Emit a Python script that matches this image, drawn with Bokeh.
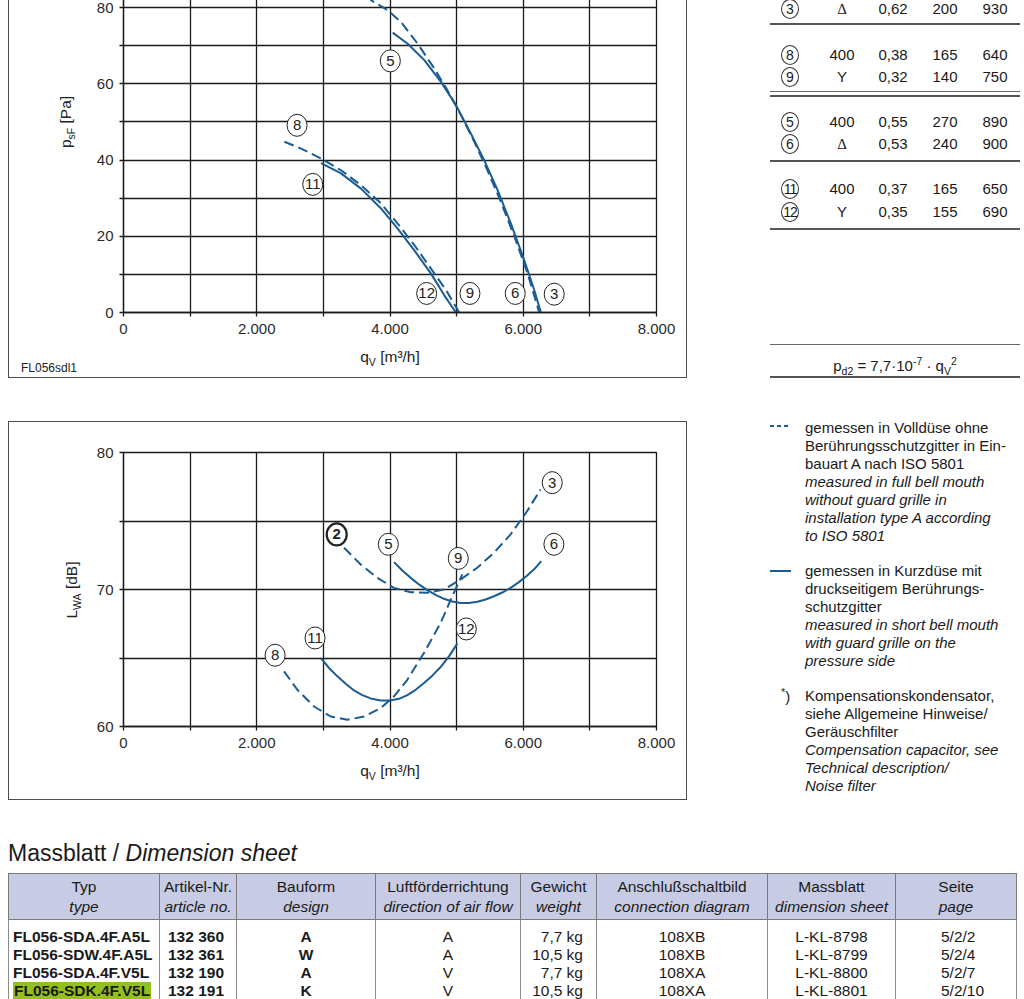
from bokeh.plotting import figure
from bokeh.models import Range1d, FixedTicker, Div, Spacer
from bokeh.layouts import column, row
from bokeh.core.properties import value
from bokeh.embed import file_html
from bokeh.resources import INLINE

FONT = "Liberation Sans"
BLUE = "#1b5c93"
INK = "#1a1a1a"

# ---------------- data ----------------
x_ticks = [0, 1000, 2000, 3000, 4000, 5000, 6000, 7000, 8000]
x_tick_labels = ["0", "", "2.000", "", "4.000", "", "6.000", "", "8.000"]
psf_ticks = [0, 10, 20, 30, 40, 50, 60, 70, 80, 90]
psf_tick_labels = ["0", "", "20", "", "40", "", "60", "", "80", ""]
lwa_ticks = [60, 65, 70, 75, 80]
lwa_tick_labels = ["60", "", "70", "", "80"]

# pressure curves  (q_V [m3/h], p_sF [Pa])
q_p3 = [3690, 3715, 3965, 4165, 4415, 4665, 4865, 5065, 5265, 5465, 5665, 5865, 6065, 6240]
p3 = [83.5, 81.9, 79.3, 76.2, 70.5, 64.0, 58.2, 51.8, 44.8, 37.2, 29.0, 20.0, 10.3, 0.0]
q_p6 = [4040, 4265, 4515, 4765, 4990, 5215, 5415, 5615, 5815, 6015, 6165, 6265]
p6 = [73.4, 70.5, 66.2, 60.5, 54.4, 46.9, 39.9, 32.1, 23.3, 13.7, 5.9, 0.0]
q_p9 = [2415, 2665, 2965, 3265, 3565, 3865, 4115, 4365, 4615, 4840, 5040]
p9 = [44.8, 43.0, 40.4, 37.3, 33.4, 28.6, 23.3, 17.7, 11.5, 5.9, 0.0]
q_p12 = [2965, 3265, 3565, 3865, 4115, 4365, 4615, 4815, 4990]
p12 = [39.2, 36.5, 32.5, 27.3, 22.0, 16.3, 10.2, 4.5, 0.0]

# sound power curves (q_V [m3/h], L_WA [dB])
q_l3 = [3310, 3560, 3810, 4060, 4310, 4560, 4810, 5060, 5310, 5560, 5810, 6060, 6260]
l3 = [73.05, 71.83, 70.85, 70.12, 69.8, 69.76, 70.0, 70.73, 71.59, 72.68, 74.02, 75.73, 77.3]
q_l6 = [4060, 4185, 4310, 4435, 4560, 4685, 4810, 4935, 5060, 5185, 5310, 5435, 5560, 5685,
        5810, 5935, 6060, 6170, 6270]
l6 = [72.0, 71.39, 70.85, 70.37, 69.95, 69.61, 69.32, 69.12, 69.02, 69.02, 69.1, 69.27, 69.51, 69.78,
      70.12, 70.54, 71.02, 71.51, 72.07]
q_l9 = [2410, 2610, 2860, 3110, 3360, 3610, 3860, 4060, 4260, 4510, 4760, 4935, 5085]
l9 = [64.02, 62.68, 61.46, 60.73, 60.49, 60.73, 61.34, 62.2, 63.41, 65.37, 67.56, 69.51, 71.1]
q_l12 = [2970, 3085, 3210, 3335, 3460, 3585, 3710, 3860, 4000, 4135, 4260, 4385, 4510, 4635,
         4760, 4885, 5010]
l12 = [64.95, 64.27, 63.66, 63.12, 62.63, 62.29, 62.05, 61.9, 61.9, 62.02, 62.29, 62.68, 63.17, 63.71,
       64.34, 65.12, 66.05]

# curve markers
top_lab_text = ["5", "8", "11", "12", "9", "6", "3"]
top_lab_q = [4005, 2605, 2840, 4550, 5200, 5880, 6465]
top_lab_p = [66.0, 49.1, 33.6, 5.0, 5.0, 5.0, 4.8]
bot_lab_text = ["3", "5", "6", "9", "12", "11", "8"]
bot_lab_q = [6435, 3975, 6460, 5025, 5145, 2875, 2275]
bot_lab_l = [77.8, 73.3, 73.3, 72.27, 67.12, 66.46, 65.2]
bot_bold_text = ["2"]
bot_bold_q = [3200]
bot_bold_l = [74.02]

# axis titles / chart code
top_x_title = ("q", "V", " [m³/h]")
top_y_title = ("p", "sF", " [Pa]")
bot_x_title = ("q", "V", " [m³/h]")
bot_y_title = ("L", "WA", " [dB]")
chart_code = "FL056sdl1"

# operating data table (top right)
tab_id = ["3", "8", "9", "5", "6", "11", "12"]
tab_volt = ["Δ", "400", "Y", "400", "Δ", "400", "Y"]
tab_amp = ["0,62", "0,38", "0,32", "0,55", "0,53", "0,37", "0,35"]
tab_watt = ["200", "165", "140", "270", "240", "165", "155"]
tab_rpm = ["930", "640", "750", "890", "900", "650", "690"]

# legend texts
leg_dashed_de = ["gemessen in Volldüse ohne", "Berührungsschutzgitter in Ein-", "bauart A nach ISO 5801"]
leg_dashed_en = ["measured in full bell mouth", "without guard grille in", "installation type A according", "to ISO 5801"]
leg_solid_de = ["gemessen in Kurzdüse mit", "druckseitigem Berührungs-", "schutzgitter"]
leg_solid_en = ["measured in short bell mouth", "with guard grille on the", "pressure side"]
leg_note_de = ["Kompensationskondensator,", "siehe Allgemeine Hinweise/", "Geräuschfilter"]
leg_note_en = ["Compensation capacitor, see", "Technical description/", "Noise filter"]

# dimension sheet table
dim_head_de = ["Typ", "Artikel-Nr.", "Bauform", "Luftförderrichtung", "Gewicht", "Anschlußschaltbild", "Massblatt", "Seite"]
dim_head_en = ["type", "article no.", "design", "direction of air flow", "weight", "connection diagram", "dimension sheet", "page"]
dim_typ = ["FL056-SDA.4F.A5L", "FL056-SDW.4F.A5L", "FL056-SDA.4F.V5L", "FL056-SDK.4F.V5L"]
dim_art = ["132 360", "132 361", "132 190", "132 191"]
dim_bau = ["A", "W", "A", "K"]
dim_luft = ["A", "A", "V", "V"]
dim_gew = ["7,7 kg", "10,5 kg", "7,7 kg", "10,5 kg"]
dim_ans = ["108XB", "108XB", "108XA", "108XA"]
dim_mass = ["L-KL-8798", "L-KL-8799", "L-KL-8800", "L-KL-8801"]
dim_seite = ["5/2/2", "5/2/4", "5/2/7", "5/2/10"]
dim_highlight = 3


# ---------------- charts ----------------
def base_chart(h, yr, yt, ytl, mt, mb):
    p = figure(width=679, height=h, x_range=Range1d(0, 8000), y_range=Range1d(*yr),
               output_backend="svg", toolbar_location=None,
               min_border_left=115, min_border_right=31, min_border_top=mt, min_border_bottom=mb,
               background_fill_color="white", border_fill_color="white")
    p.outline_line_color = INK
    p.outline_line_width = 1.3
    p.xaxis.ticker = FixedTicker(ticks=x_ticks)
    p.xaxis.major_label_overrides = dict(zip(x_ticks, x_tick_labels))
    p.yaxis.ticker = FixedTicker(ticks=yt)
    p.yaxis.major_label_overrides = dict(zip(yt, ytl))
    p.xgrid.ticker = FixedTicker(ticks=x_ticks)
    p.ygrid.ticker = FixedTicker(ticks=yt)
    for g in (p.xgrid, p.ygrid):
        g.grid_line_color = INK
        g.grid_line_width = 1.3
    for ax in (p.xaxis, p.yaxis):
        ax.axis_line_color = INK
        ax.axis_line_width = 1.3
        ax.major_tick_line_color = INK
        ax.major_tick_line_width = 1.3
        ax.major_tick_in = 0
        ax.major_tick_out = 4
        ax.minor_tick_line_color = None
        ax.major_label_text_font = FONT
        ax.major_label_text_font_size = "15px"
        ax.major_label_text_color = "#2a2a2a"
    p.xaxis.major_label_standoff = 7
    p.yaxis.major_label_standoff = 6
    return p


def markers(p, xs, ys, texts, bold=False):
    p.ellipse(x=xs, y=ys, width=20, height=22, width_units="screen", height_units="screen",
              fill_color="white", line_color="#222", line_width=2.2 if bold else 1.0)
    p.text(x=xs, y=ys, text=texts, text_align="center", text_baseline="middle",
           text_font=value(FONT), text_font_size="15px", text_color="#222",
           text_font_style="bold" if bold else "normal")


# top chart: pressure
p1 = base_chart(410, (0, 90.23), psf_ticks, psf_tick_labels, 0, 66)
p1.line(q_p3, p3, line_color=BLUE, line_width=2, line_dash="10 5")
p1.line(q_p6, p6, line_color=BLUE, line_width=2)
p1.line(q_p9, p9, line_color=BLUE, line_width=2, line_dash="10 5")
p1.line(q_p12, p12, line_color=BLUE, line_width=2)
markers(p1, top_lab_q, top_lab_p, top_lab_text)

# bottom chart: sound power
p2 = base_chart(379, (60, 80), lwa_ticks, lwa_tick_labels, 31, 74)
p2.line(q_l3, l3, line_color=BLUE, line_width=2, line_dash="10 5")
p2.line(q_l6, l6, line_color=BLUE, line_width=2)
p2.line(q_l9, l9, line_color=BLUE, line_width=2, line_dash="10 5")
p2.line(q_l12, l12, line_color=BLUE, line_width=2)
markers(p2, bot_lab_q, bot_lab_l, bot_lab_text)
markers(p2, bot_bold_q, bot_bold_l, bot_bold_text, bold=True)

# ---------------- HTML parts ----------------
BASE = f"font-family:'{FONT}',Arial,sans-serif;color:#1a1a1a;"
SUB = 'style="font-size:10.5px;"'


def circ(t, size=14, w=18, h=20, bw=1):
    ls = "-1px" if len(t) > 1 else "0"
    return (f'<span style="display:inline-block;box-sizing:border-box;width:{w}px;height:{h}px;'
            f'border:{bw}px solid #333;border-radius:50%;font-size:{size}px;line-height:{h - 2}px;'
            f'text-align:center;letter-spacing:{ls};">{t}</span>')


def absdiv(cx, cy, inner, w=60, extra=""):
    return (f'<div style="position:absolute;left:{cx - w / 2}px;top:{cy - 11}px;width:{w}px;height:22px;'
            f'line-height:22px;text-align:center;white-space:nowrap;{extra}">{inner}</div>')


def hline(cy, thick, color="#555"):
    return f'<div style="position:absolute;left:0;top:{cy}px;width:250px;height:{thick}px;background:{color};"></div>'


def title_html(parts3):
    a, b, c = parts3
    return f"{a}<sub {SUB}>{b}</sub>{c}"


def overlay_box(left, top, w, h):
    return (f'<div style="position:absolute;z-index:20;left:{left}px;top:{top}px;width:{w}px;height:{h}px;'
            f'box-sizing:border-box;border:1.5px solid #4d4d4d;pointer-events:none;"></div>')


def overlay_text(cx, cy, inner, size=15.5, rotate=False, w=200):
    tr = "transform:rotate(-90deg);" if rotate else ""
    return (f'<div style="position:absolute;z-index:20;left:{cx - w / 2}px;top:{cy - 10}px;width:{w}px;'
            f'height:20px;line-height:20px;text-align:center;white-space:nowrap;font-size:{size}px;'
            f'color:#222;{tr}">{inner}</div>')


# top-right block (container origin = page x 770, page y -32)
row_cy = [41, 87, 109, 154, 176, 221, 244]
col_cx = [20, 72, 123, 175, 225]
parts = []
for i in range(len(tab_id)):
    parts.append(absdiv(col_cx[0], row_cy[i], circ(tab_id[i]), w=30))
    vfont = "font-family:'Liberation Serif',serif;" if tab_volt[i] == "Δ" else ""
    parts.append(absdiv(col_cx[1], row_cy[i], tab_volt[i], extra=vfont))
    parts.append(absdiv(col_cx[2], row_cy[i], tab_amp[i]))
    parts.append(absdiv(col_cx[3], row_cy[i], tab_watt[i]))
    parts.append(absdiv(col_cx[4], row_cy[i], tab_rpm[i]))
for cy, th, c in [(55, 1.5, "#555"), (123, 1, "#666"), (127, 2, "#555"), (192, 2, "#555"),
                  (260, 1.5, "#555"), (376, 1, "#666"), (408, 1.5, "#555")]:
    parts.append(hline(cy, th, c))
formula = f'p<sub {SUB}>d2</sub> = 7,7·10<sup {SUB}>-7</sup> · q<sub {SUB}>V</sub><sup {SUB}>2</sup>'
parts.append(absdiv(125, 393, formula, w=200))
# overlays for chart 1 (axis titles, code, outer box)
parts.append(overlay_box(-762, 0, 679, 410))
parts.append(overlay_text(390 - 770, 357 + 32, title_html(top_x_title)))
parts.append(overlay_text(66 - 770, 122 + 32, title_html(top_y_title), rotate=True))
parts.append(f'<div style="position:absolute;z-index:20;left:-749px;top:392px;height:16px;line-height:16px;'
             f'font-size:12px;color:#222;white-space:nowrap;">{chart_code}</div>')
table_html = (f'<div style="position:relative;width:250px;height:410px;overflow:visible;{BASE}font-size:15px;">'
              + "".join(parts) + "</div>")
div_tab = Div(text=table_html, width=250, height=410, margin=0, styles={"overflow": "visible"})

# legend block (container origin = page x 770, page y 421)
lp = []


def leg_lines(start_center, de, en):
    out = []
    for k, t in enumerate(de + en):
        style = "font-style:italic;" if k >= len(de) else ""
        out.append(f'<div style="position:absolute;left:35px;top:{start_center + 18 * k - 9}px;height:18px;'
                   f'line-height:18px;white-space:nowrap;{style}">{t}</div>')
    return out


lp += leg_lines(7, leg_dashed_de, leg_dashed_en)
lp += leg_lines(150, leg_solid_de, leg_solid_en)
lp += leg_lines(275, leg_note_de, leg_note_en)
lp.append('<svg style="position:absolute;left:0;top:2px;" width="22" height="6">'
          f'<line x1="0" y1="3" x2="21" y2="3" stroke="{BLUE}" stroke-width="2" stroke-dasharray="4 3"/></svg>')
lp.append('<svg style="position:absolute;left:0;top:147px;" width="22" height="6">'
          f'<line x1="0" y1="3" x2="21" y2="3" stroke="{BLUE}" stroke-width="2"/></svg>')
lp.append('<div style="position:absolute;left:11px;top:262px;height:18px;line-height:18px;">'
          '<sup style="font-size:11px;">*</sup>)</div>')
# overlays for chart 2
lp.append(overlay_box(-762, 0, 679, 379))
lp.append(overlay_text(390 - 770, 771 - 421, title_html(bot_x_title)))
lp.append(overlay_text(72 - 770, 590 - 421, title_html(bot_y_title), rotate=True))
legend_html = (f'<div style="position:relative;width:250px;height:379px;overflow:visible;{BASE}font-size:15px;">'
               + "".join(lp) + "</div>")
div_leg = Div(text=legend_html, width=250, height=379, margin=0, styles={"overflow": "visible"})

# title
title_div_html = (f'<div style="{BASE}font-size:23px;line-height:30px;height:35px;">'
                  'Massblatt / <i>Dimension sheet</i></div>')
div_title = Div(text=title_div_html, width=1008, height=35, margin=0)

# dimension table
col_w = [151, 77, 139, 145, 76, 171, 128, 121]
body_style = [
    "text-align:left;padding-left:4px;font-weight:bold;",
    "text-align:left;padding-left:8px;font-weight:bold;",
    "text-align:center;font-weight:bold;",
    "text-align:center;",
    "text-align:right;padding-right:13px;",
    "text-align:center;",
    "text-align:center;",
    "text-align:left;padding-left:45px;",
]
cols = [dim_typ, dim_art, dim_bau, dim_luft, dim_gew, dim_ans, dim_mass, dim_seite]
vb = "border-left:1px solid #8a8a8a;border-right:1px solid #8a8a8a;"
h = [f'<table style="border-collapse:collapse;table-layout:fixed;width:{sum(col_w)}px;{BASE}'
     f'border:1.5px solid #6a6a6a;">']
h.append("<colgroup>" + "".join(f'<col style="width:{w}px">' for w in col_w) + "</colgroup>")
h.append('<tr style="height:46px;background:#c7cce4;">')
for de, en in zip(dim_head_de, dim_head_en):
    h.append(f'<th style="font-weight:normal;font-size:15.5px;line-height:20px;text-align:center;'
             f'vertical-align:middle;padding:0;border:1px solid #7a7a7a;white-space:nowrap;overflow:hidden;">'
             f'{de}<br><i>{en}</i></th>')
h.append("</tr>")
h.append('<tr style="height:8px;">' + "".join(f'<td style="padding:0;{vb}"></td>' for _ in col_w) + "</tr>")
for r in range(len(dim_typ)):
    h.append('<tr style="height:18px;">')
    for c, vals in enumerate(cols):
        txt = vals[r]
        if c == 0 and r == dim_highlight:
            txt = f'<span style="background:#93c01f;padding:0 1px;">{txt}</span>'
        h.append(f'<td style="padding-top:0;padding-bottom:0;font-size:15.5px;line-height:18px;white-space:nowrap;'
                 f'overflow:hidden;{vb}{body_style[c]}">{txt}</td>')
    h.append("</tr>")
h.append("</table>")
div_dim = Div(text="".join(h), width=1010, height=126, margin=0)

row1 = row(p1, Spacer(width=83, height=410), div_tab)
row2 = row(p2, Spacer(width=83, height=379), div_leg)
root = column(row1, Spacer(width=10, height=43), row2, Spacer(width=10, height=38), div_title, div_dim,
              styles={"margin-top": "-32px", "margin-left": "8px"})

open("out.html", "w").write(file_html(root, INLINE))
